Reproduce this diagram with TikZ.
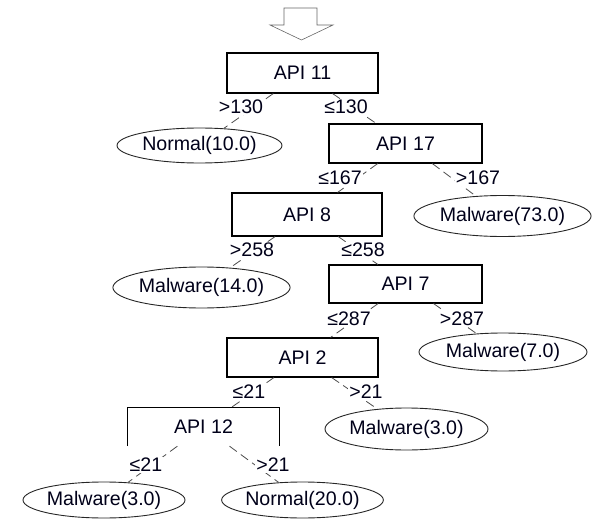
\documentclass[tikz,border=0pt]{standalone}
\usepackage{fontspec}
\setmainfont{Liberation Sans}
\usetikzlibrary{shapes.geometric}
\begin{document}
\begin{tikzpicture}[x=1pt,y=-1pt,
  every node/.style={font=\fontsize{19.6}{22}\selectfont, text=black!90!blue},
  testbox/.style={draw=black, line width=1.1pt, rectangle, inner sep=0pt},
  openbox/.style={rectangle, inner sep=0pt},
  leaf/.style={draw=black!85, line width=0.9pt, ellipse, inner sep=0pt},
  edge/.style={draw=black!70, line width=0.8pt, dash pattern=on 9pt off 5pt},
  cond/.style={fill=white, inner sep=1pt}
]
\useasboundingbox (0,0) rectangle (592,519);
% hollow arrow at top
\draw[black!60, line width=0.6pt] (284,8) -- (317,8) -- (317,25) -- (333,25) -- (301.5,40) -- (270,25) -- (284,25) -- cycle;

% test nodes
\node[testbox, minimum width=151pt, minimum height=40pt] (api11) at (302.5,73) {API 11};
\node[testbox, minimum width=153pt, minimum height=39pt] (api17) at (405.5,143.5) {API 17};
\node[testbox, minimum width=150pt, minimum height=43pt] (api8) at (307,214.5) {API 8};
\node[testbox, minimum width=153pt, minimum height=38pt] (api7) at (405.5,284) {API 7};
\node[testbox, minimum width=151pt, minimum height=39pt] (api2) at (302.5,357.5) {API 2};
\node[openbox, minimum width=151pt, minimum height=38pt] (api12) at (203.5,427) {API 12};
\draw[black, line width=1.1pt] (api12.south west) -- (api12.north west) -- (api12.north east) -- (api12.south east);

% leaves
\node[leaf, minimum width=165pt, minimum height=35pt] (n10) at (199.5,145.5) {Normal(10.0)};
\node[leaf, minimum width=171pt, minimum height=41pt] (m73) at (502.5,216) {Malware(73.0)};
\node[leaf, minimum width=177pt, minimum height=41pt] (m14) at (201.5,287.5) {Malware(14.0)};
\node[leaf, minimum width=168pt, minimum height=38pt] (m7) at (503,352) {Malware(7.0)};
\node[leaf, minimum width=163pt, minimum height=42pt] (m3r) at (406.5,429) {Malware(3.0)};
\node[leaf, minimum width=162pt, minimum height=36pt] (m3l) at (104,500) {Malware(3.0)};
\node[leaf, minimum width=161pt, minimum height=36pt] (n20) at (302.5,500) {Normal(20.0)};

% connectors
\draw[edge] (api11) -- (n10);
\draw[edge] (api11) -- (api17);
\draw[edge] (api17) -- (api8);
\draw[edge] (api17) -- (m73);
\draw[edge] (api8) -- (m14);
\draw[edge] (api8) -- (api7);
\draw[edge] (api7) -- (api2);
\draw[edge] (api7) -- (m7);
\draw[edge] (api2) -- (api12);
\draw[edge] (api2) -- (m3r);
\draw[edge] (api12) -- (m3l);
\draw[edge] (api12) -- (n20);

% condition labels
\node[cond] (c1) at (241,107) {>130};
\node[cond] (c2) at (346,107) {≤130};
\node[cond] (c3) at (340,178) {≤167};
\node[cond] (c4) at (478,178) {>167};
\node[cond] (c5) at (252,250) {>258};
\node[cond] (c6) at (363,250) {≤258};
\node[cond] (c7) at (349,319) {≤287};
\node[cond] (c8) at (462,319) {>287};
\node[cond] (c9) at (249,392) {≤21};
\node[cond] (c10) at (366,392) {>21};
\node[cond] (c11) at (146,465) {≤21};
\node[cond] (c12) at (273,465) {>21};
\end{tikzpicture}
\end{document}
